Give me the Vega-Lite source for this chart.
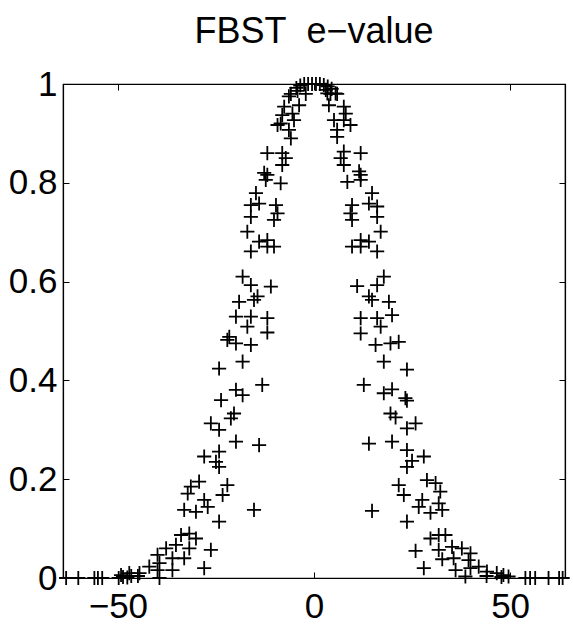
{
  "$schema": "https://vega.github.io/schema/vega-lite/v6.json",
  "width": 502,
  "height": 494,
  "autosize": "none",
  "padding": {"left": 63, "top": 84, "right": 8, "bottom": 51},
  "background": "white",
  "title": {
    "text": "FBST\u00a0\u00a0e−value",
    "font": "Liberation Sans",
    "fontSize": 36,
    "fontWeight": "normal",
    "color": "black",
    "anchor": "middle",
    "offset": 16
  },
  "config": {
    "view": {"stroke": "black", "strokeWidth": 1.2},
    "axis": {
      "grid": false,
      "domainColor": "black",
      "domainWidth": 1.2,
      "tickColor": "black",
      "tickWidth": 1,
      "tickSize": -6,
      "labelFont": "Liberation Sans",
      "labelFontSize": 35,
      "labelColor": "black",
      "labelFlush": false,
      "labelOverlap": false,
      "title": null
    }
  },
  "data": {
    "values": [
      {"x": -4.5, "e": 0.992}, {"x": -3.5, "e": 0.997}, {"x": -2.5, "e": 1.0}, {"x": -1.5, "e": 1.0},
      {"x": -0.5, "e": 1.0}, {"x": 0.5, "e": 1.0}, {"x": 1.5, "e": 1.0}, {"x": 2.5, "e": 0.998},
      {"x": 3.5, "e": 0.995}, {"x": 4.5, "e": 0.99},
      {"x": -5.9, "e": 0.98}, {"x": -4.2, "e": 0.986}, {"x": -2.1, "e": 0.98}, {"x": -6.4, "e": 0.975},
      {"x": -3.8, "e": 0.957}, {"x": -7.6, "e": 0.954}, {"x": -5.5, "e": 0.94}, {"x": -8.1, "e": 0.937},
      {"x": -5.1, "e": 0.927}, {"x": -9.3, "e": 0.917}, {"x": -8.5, "e": 0.92}, {"x": -6.4, "e": 0.907},
      {"x": -5.9, "e": 0.89},
      {"x": -11.9, "e": 0.86}, {"x": -8.1, "e": 0.86}, {"x": -7.2, "e": 0.85}, {"x": -8.1, "e": 0.836},
      {"x": -12.7, "e": 0.82}, {"x": -11.9, "e": 0.816}, {"x": -12.3, "e": 0.806}, {"x": -8.5, "e": 0.799},
      {"x": -14.8, "e": 0.779}, {"x": -14.0, "e": 0.758}, {"x": -16.1, "e": 0.755}, {"x": -16.1, "e": 0.731},
      {"x": -9.7, "e": 0.755}, {"x": -9.3, "e": 0.738}, {"x": -10.2, "e": 0.725}, {"x": -17.0, "e": 0.701},
      {"x": -14.0, "e": 0.681}, {"x": -11.9, "e": 0.684}, {"x": -11.9, "e": 0.671}, {"x": -10.2, "e": 0.671},
      {"x": -16.1, "e": 0.661}, {"x": -18.2, "e": 0.61}, {"x": -16.1, "e": 0.593}, {"x": -11.0, "e": 0.59},
      {"x": -14.4, "e": 0.57}, {"x": -19.1, "e": 0.559}, {"x": -15.3, "e": 0.563}, {"x": -19.9, "e": 0.529},
      {"x": -16.1, "e": 0.529}, {"x": -11.9, "e": 0.526}, {"x": -17.0, "e": 0.509}, {"x": -11.9, "e": 0.497},
      {"x": -21.6, "e": 0.488},
      {"x": -22.1, "e": 0.482}, {"x": -19.9, "e": 0.475}, {"x": -16.1, "e": 0.472}, {"x": -18.2, "e": 0.438},
      {"x": -24.2, "e": 0.424}, {"x": -13.2, "e": 0.391}, {"x": -19.9, "e": 0.381}, {"x": -18.2, "e": 0.37},
      {"x": -23.7, "e": 0.36}, {"x": -20.4, "e": 0.333}, {"x": -21.2, "e": 0.323}, {"x": -26.3, "e": 0.313},
      {"x": -24.2, "e": 0.3}, {"x": -19.9, "e": 0.276}, {"x": -14.0, "e": 0.269}, {"x": -24.2, "e": 0.256},
      {"x": -28.0, "e": 0.246}, {"x": -25.0, "e": 0.235}, {"x": -24.2, "e": 0.225}, {"x": -29.3, "e": 0.195},
      {"x": -31.4, "e": 0.185}, {"x": -22.1, "e": 0.188}, {"x": -23.3, "e": 0.168}, {"x": -32.2, "e": 0.171},
      {"x": -28.0, "e": 0.158}, {"x": -27.1, "e": 0.144}, {"x": -33.1, "e": 0.138}, {"x": -30.1, "e": 0.134},
      {"x": -15.3, "e": 0.138}, {"x": -24.2, "e": 0.114}, {"x": -33.9, "e": 0.087}, {"x": -31.8, "e": 0.09},
      {"x": -30.1, "e": 0.08}, {"x": -35.2, "e": 0.067}, {"x": -37.7, "e": 0.06}, {"x": -31.8, "e": 0.06},
      {"x": -26.3, "e": 0.057}, {"x": -39.9, "e": 0.047}, {"x": -36.1, "e": 0.04}, {"x": -33.1, "e": 0.04},
      {"x": -42.0, "e": 0.023}, {"x": -39.4, "e": 0.03}, {"x": -39.9, "e": 0.016}, {"x": -36.1, "e": 0.016},
      {"x": -28.0, "e": 0.02}, {"x": -44.5, "e": 0.01}, {"x": -47.1, "e": 0.01}, {"x": -49.2, "e": 0.006},
      {"x": -39.4, "e": 0.0}, {"x": -46.6, "e": 0.004}, {"x": -44.9, "e": 0.004}, {"x": -48.7, "e": 0.002},
      {"x": -63.2, "e": 0}, {"x": -60.1, "e": 0}, {"x": -56.0, "e": 0}, {"x": -55.1, "e": 0},
      {"x": -54.0, "e": 0}, {"x": -49.8, "e": 0}, {"x": -47.6, "e": 0.001},
      {"x": 3.0, "e": 0.988}, {"x": 4.2, "e": 0.98}, {"x": 5.9, "e": 0.98}, {"x": 3.4, "e": 0.981},
      {"x": 5.5, "e": 0.981}, {"x": 3.8, "e": 0.957}, {"x": 7.6, "e": 0.954}, {"x": 8.1, "e": 0.94},
      {"x": 5.1, "e": 0.927}, {"x": 7.6, "e": 0.927}, {"x": 9.3, "e": 0.917}, {"x": 5.9, "e": 0.907},
      {"x": 5.9, "e": 0.893}, {"x": 7.6, "e": 0.863}, {"x": 11.9, "e": 0.86}, {"x": 6.8, "e": 0.85},
      {"x": 7.6, "e": 0.836}, {"x": 11.5, "e": 0.823}, {"x": 11.9, "e": 0.816}, {"x": 8.5, "e": 0.802},
      {"x": 11.9, "e": 0.806}, {"x": 14.8, "e": 0.779}, {"x": 14.0, "e": 0.758}, {"x": 16.1, "e": 0.752},
      {"x": 9.7, "e": 0.755}, {"x": 9.3, "e": 0.738}, {"x": 9.7, "e": 0.725}, {"x": 16.1, "e": 0.731},
      {"x": 17.0, "e": 0.701}, {"x": 11.9, "e": 0.684}, {"x": 14.0, "e": 0.681}, {"x": 9.7, "e": 0.671},
      {"x": 11.9, "e": 0.671}, {"x": 16.1, "e": 0.661}, {"x": 17.8, "e": 0.61}, {"x": 16.1, "e": 0.593},
      {"x": 11.0, "e": 0.591}, {"x": 14.0, "e": 0.57}, {"x": 14.8, "e": 0.563}, {"x": 19.1, "e": 0.559},
      {"x": 19.9, "e": 0.532}, {"x": 11.9, "e": 0.526}, {"x": 16.1, "e": 0.526}, {"x": 17.0, "e": 0.509},
      {"x": 11.9, "e": 0.495},
      {"x": 15.7, "e": 0.472}, {"x": 19.5, "e": 0.475}, {"x": 21.6, "e": 0.478}, {"x": 17.8, "e": 0.438},
      {"x": 23.7, "e": 0.422}, {"x": 12.7, "e": 0.391}, {"x": 17.8, "e": 0.374}, {"x": 19.9, "e": 0.382},
      {"x": 23.3, "e": 0.364}, {"x": 23.7, "e": 0.359}, {"x": 19.5, "e": 0.333}, {"x": 20.8, "e": 0.325},
      {"x": 23.7, "e": 0.303}, {"x": 25.9, "e": 0.313}, {"x": 14.0, "e": 0.272}, {"x": 19.9, "e": 0.276},
      {"x": 23.7, "e": 0.259}, {"x": 28.0, "e": 0.246}, {"x": 25.0, "e": 0.237}, {"x": 23.7, "e": 0.225},
      {"x": 28.8, "e": 0.198}, {"x": 31.0, "e": 0.192}, {"x": 21.6, "e": 0.188}, {"x": 22.9, "e": 0.168},
      {"x": 32.2, "e": 0.175}, {"x": 27.6, "e": 0.158}, {"x": 26.7, "e": 0.144}, {"x": 31.8, "e": 0.151},
      {"x": 32.7, "e": 0.138}, {"x": 29.7, "e": 0.132}, {"x": 14.8, "e": 0.136}, {"x": 23.7, "e": 0.114},
      {"x": 29.7, "e": 0.08}, {"x": 31.8, "e": 0.087}, {"x": 33.5, "e": 0.087}, {"x": 35.2, "e": 0.063},
      {"x": 37.7, "e": 0.06}, {"x": 31.8, "e": 0.057}, {"x": 25.9, "e": 0.055}, {"x": 39.9, "e": 0.05},
      {"x": 32.7, "e": 0.038}, {"x": 35.6, "e": 0.04}, {"x": 39.4, "e": 0.036}, {"x": 42.0, "e": 0.023},
      {"x": 39.9, "e": 0.02}, {"x": 36.1, "e": 0.016}, {"x": 28.0, "e": 0.02}, {"x": 44.1, "e": 0.013},
      {"x": 46.6, "e": 0.01}, {"x": 48.3, "e": 0.006}, {"x": 49.6, "e": 0.003}, {"x": 38.6, "e": 0.003},
      {"x": 47.8, "e": 0.002}, {"x": 44.0, "e": 0.004},
      {"x": 53.9, "e": 0}, {"x": 55.1, "e": 0}, {"x": 56.4, "e": 0}, {"x": 59.8, "e": 0},
      {"x": 62.5, "e": 0}, {"x": 63.4, "e": 0}
    ]
  },
  "layer": [
    {
      "mark": {
        "type": "point",
        "shape": "M-1,0H1M0,-1V1",
        "filled": false,
        "stroke": "black",
        "strokeWidth": 1.8,
        "opacity": 1,
        "size": 200,
        "clip": false
      },
      "encoding": {
        "x": {
          "field": "x",
          "type": "quantitative",
          "scale": {"domain": [-64, 64], "nice": false, "zero": false},
          "axis": {"values": [-50, 0, 50], "format": "d", "labelPadding": 17}
        },
        "y": {
          "field": "e",
          "type": "quantitative",
          "scale": {"domain": [0, 1], "nice": false},
          "axis": {"values": [0, 0.2, 0.4, 0.6, 0.8, 1], "format": "~g", "labelPadding": 12}
        }
      }
    },
    {
      "mark": {"type": "point", "opacity": 0},
      "encoding": {
        "x": {
          "field": "x",
          "type": "quantitative",
          "axis": {"orient": "top", "values": [-50, 0, 50], "labels": false}
        },
        "y": {
          "field": "e",
          "type": "quantitative",
          "axis": {"orient": "right", "values": [0.2, 0.4, 0.6, 0.8], "labels": false}
        }
      }
    }
  ],
  "resolve": {"axis": {"x": "independent", "y": "independent"}}
}
